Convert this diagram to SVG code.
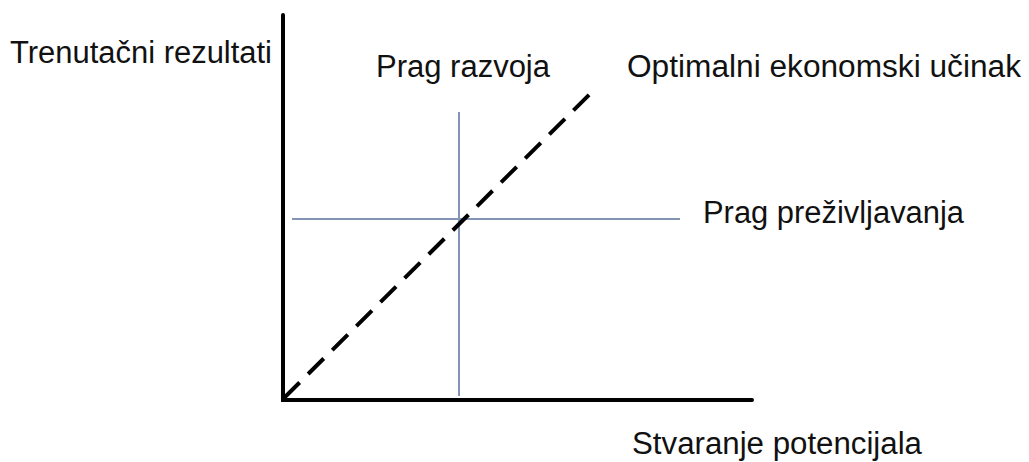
<svg xmlns="http://www.w3.org/2000/svg" width="1029" height="462" viewBox="0 0 1029 462">
<style>
text{font-family:"Liberation Sans",Arial,sans-serif;font-size:31px;fill:#111}
.axis{stroke:#000;stroke-width:4;stroke-linecap:round;fill:none}
.thr{stroke:#8494b4;stroke-width:2;fill:none}
.opt{stroke:#000;stroke-width:4;stroke-dasharray:22 12;fill:none}
</style>
<rect width="1029" height="462" fill="#fff"/>
<g id="connectors">
<line class="thr" x1="459" y1="112" x2="459" y2="396"/>
<line class="thr" x1="292" y1="219" x2="680" y2="219"/>
<line class="opt" x1="284" y1="398" x2="592" y2="92"/>
<polyline class="axis" points="283,15 283,400 752,400"/>
</g>
<g id="y-label"><text x="10" y="63" textLength="262" lengthAdjust="spacingAndGlyphs">Trenutačni rezultati</text></g>
<g id="x-label"><text x="632" y="454" textLength="290" lengthAdjust="spacingAndGlyphs">Stvaranje potencijala</text></g>
<g id="prag-razvoja"><text x="376" y="77" textLength="174" lengthAdjust="spacingAndGlyphs">Prag razvoja</text></g>
<g id="optimalni"><text x="627" y="77" textLength="394" lengthAdjust="spacingAndGlyphs">Optimalni ekonomski učinak</text></g>
<g id="prag-prezivljavanja"><text x="703" y="223" textLength="261" lengthAdjust="spacingAndGlyphs">Prag preživljavanja</text></g>
</svg>
